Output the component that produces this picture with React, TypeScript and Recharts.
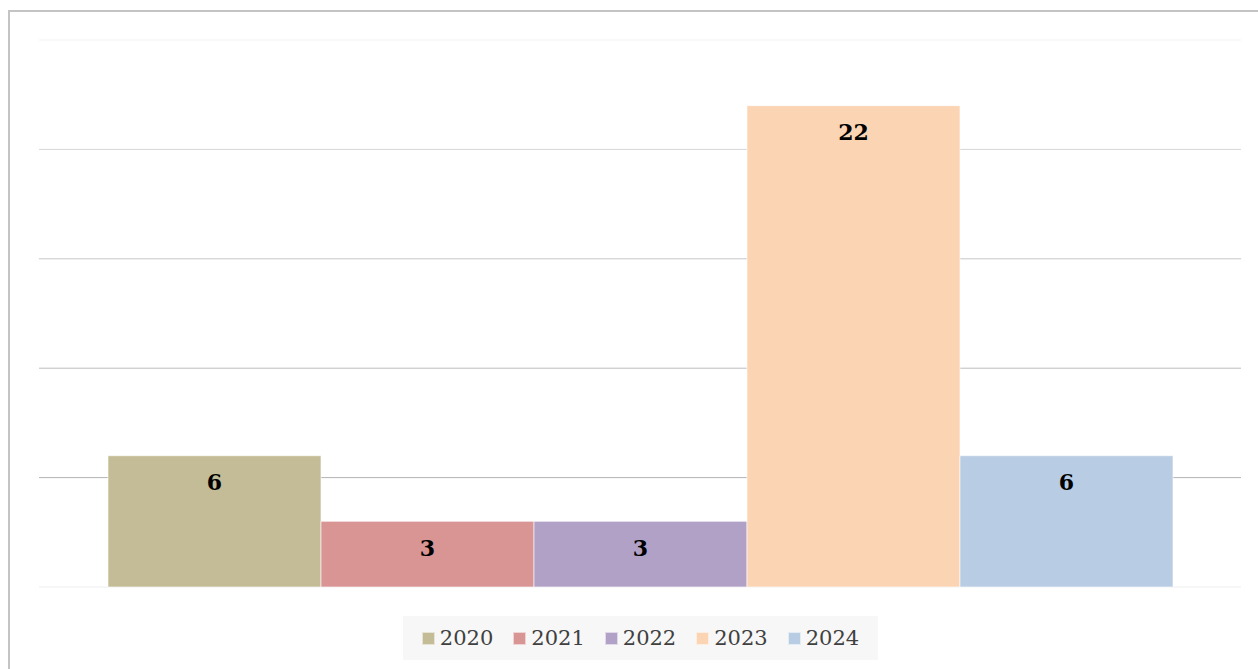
import React from "react";
import { Bar, BarChart, CartesianGrid, LabelList, XAxis, YAxis } from "recharts";

const categories = ["Total"];
const years = ["2020", "2021", "2022", "2023", "2024"];
const counts = [6, 3, 3, 22, 6];
const yTicks = [0, 5, 10, 15, 20, 25];

const colors = ["#c4bc96", "#d99594", "#b2a1c7", "#fbd4b4", "#b8cce4"];
const gridColors = ["#eeeeee", "#b3b3b3", "#bdbdbd", "#c6c6c6", "#d6d6d6", "#f3f3f3"];

const data = categories.map((name) => {
  const row: Record<string, string | number> = { name };
  years.forEach((y, i) => {
    row[y] = counts[i];
  });
  return row;
});

const W = 1258;
const H = 669;
const font = "'DejaVu Serif', Georgia, serif";

function GridLine(props: any) {
  const { x1, x2, y1, y2, index } = props;
  const i = typeof index === "number" ? index : 0;
  return (
    <line
      x1={x1}
      x2={x2}
      y1={y1}
      y2={y2}
      stroke={gridColors[i] ?? "#cccccc"}
      strokeWidth={1}
    />
  );
}

export default function App() {
  return (
    <div
      style={{
        position: "fixed",
        left: 0,
        top: 0,
        width: W,
        height: H,
        overflow: "hidden",
        background: "#ffffff",
      }}
    >
      <div
        style={{
          position: "absolute",
          left: 8,
          top: 10,
          width: W + 40,
          height: H + 40,
          borderLeft: "2px solid #c4c4c4",
          borderTop: "2px solid #c4c4c4",
        }}
      />
      <div style={{ position: "absolute", left: 0, top: 0 }}>
        <BarChart
          width={W}
          height={H}
          data={data}
          margin={{ top: 40, right: 17, left: 39, bottom: 82 }}
          barCategoryGap="5.74%"
          barGap={0}
        >
          <CartesianGrid
            vertical={false}
            horizontal={(p: any) => <GridLine key={p.key} {...p} />}
          />
          <XAxis dataKey="name" hide />
          <YAxis domain={[0, 25]} ticks={yTicks} hide />
          {years.map((y, i) => (
            <Bar
              key={y}
              dataKey={y}
              fill={colors[i]}
              stroke="#ffffff"
              strokeOpacity={0.6}
              strokeWidth={1}
              isAnimationActive={false}
            >
              <LabelList
                dataKey={y}
                position="insideTop"
                offset={19}
                fill="#000000"
                style={{ fontFamily: font, fontWeight: 700, fontSize: 22 }}
              />
            </Bar>
          ))}
        </BarChart>
      </div>
      <div
        style={{
          position: "absolute",
          left: 403,
          top: 616,
          width: 475,
          height: 44,
          background: "#f7f7f7",
          display: "flex",
          alignItems: "center",
          justifyContent: "center",
          gap: 20,
          fontFamily: font,
          fontSize: 21,
          color: "#404040",
        }}
      >
        {years.map((y, i) => (
          <div key={y} style={{ display: "flex", alignItems: "center", gap: 5 }}>
            <span
              style={{
                display: "inline-block",
                width: 13,
                height: 13,
                background: colors[i],
                border: "1px solid rgba(255,255,255,0.6)",
                boxSizing: "border-box",
              }}
            />
            <span>{y}</span>
          </div>
        ))}
      </div>
    </div>
  );
}
